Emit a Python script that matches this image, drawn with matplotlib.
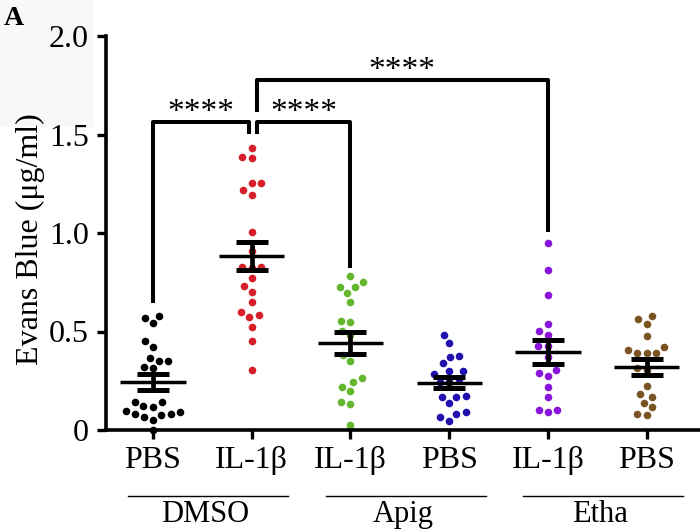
import numpy as np
import matplotlib
matplotlib.use('Agg')
import matplotlib.pyplot as plt
from matplotlib.patches import Rectangle

plt.rcParams['font.family'] = ['Liberation Serif', 'DejaVu Serif']

# 组别
tick_labels = ['PBS', 'IL-1β', 'IL-1β', 'PBS', 'IL-1β', 'PBS']
group_names = ['DMSO', 'Apig', 'Etha']
colors = ['#000000', '#d81e28', '#62b72c', '#2010ae', '#8a14dc', '#7a5422']

# 数据 (Evans Blue, μg/ml)
dmso_pbs = [0.567, 0.541, 0.579, 0.423, 0.453, 0.352, 0.321, 0.313, 0.352, 0.367, 0.144,
            0.122, 0.118, 0.140, 0.098, 0.080, 0.076, 0.068, 0.051, 0.080, 0.093, 0.0]
dmso_il = [1.433, 1.379, 1.387, 1.255, 1.255, 1.193, 1.218, 1.007, 0.910, 0.829, 0.829,
           0.824, 0.770, 0.733, 0.702, 0.648, 0.584, 0.601, 0.572, 0.525, 0.453, 0.305]
apig_il = [0.753, 0.724, 0.694, 0.724, 0.782, 0.648, 0.547, 0.553, 0.504, 0.482, 0.381,
           0.350, 0.245, 0.262, 0.220, 0.198, 0.144, 0.130, 0.025]
apig_pbs = [0.482, 0.440, 0.372, 0.376, 0.338, 0.301, 0.301, 0.257, 0.173, 0.166, 0.169,
            0.135, 0.080, 0.047, 0.064, 0.093, 0.284, 0.245, 0.245]
etha_il = [0.948, 0.812, 0.685, 0.536, 0.503, 0.482, 0.426, 0.426, 0.372, 0.305, 0.276,
           0.288, 0.220, 0.169, 0.102, 0.093, 0.102]
etha_pbs = [0.562, 0.538, 0.580, 0.477, 0.423, 0.392, 0.389, 0.392, 0.406, 0.313, 0.305,
            0.223, 0.183, 0.166, 0.139, 0.115, 0.076, 0.080]
groups = [dmso_pbs, dmso_il, apig_il, apig_pbs, etha_il, etha_pbs]

# 显著性标记: (左组, 右组, 横线高度, 左腿底, 右腿底)
sig = [(0, 1, 1.565, 0.656, 1.514),
       (1, 2, 1.565, 1.514, 0.83),
       (1, 4, 1.777, 1.624, 1.015)]

fig = plt.figure(figsize=(7, 5.29), dpi=100)
fig.patches.append(Rectangle((0, 1 - 127 / 529), 93 / 700, 127 / 529, transform=fig.transFigure,
                             facecolor='#f8f8f8', edgecolor='none', zorder=-10))
ax = fig.add_axes([106 / 700, 99 / 529, 594 / 700, 394 / 529])
ax.set_xlim(-0.476, 5.54)
ax.set_ylim(0, 2.0)
ax.patch.set_alpha(0)


def swarm(vals, d):
    # 简单的蜂群排列 (像素空间)
    p = ax.transData.transform(np.column_stack([np.zeros(len(vals)), vals]))
    ys = p[:, 1]
    order = np.argsort(ys)
    offs = np.zeros(len(vals))
    placed = []
    for i in order:
        y = ys[i]
        near = [(px, py) for px, py in placed if abs(py - y) < d]
        cands = [0.0]
        for px, py in near:
            dx = np.sqrt(d ** 2 - (py - y) ** 2)
            cands += [px - dx, px + dx]
        cands.sort(key=abs)
        for c in cands:
            if all((c - px) ** 2 + (y - py) ** 2 >= d ** 2 - 1e-6 for px, py in near):
                offs[i] = c
                break
        placed.append((offs[i], y))
    xpx = ax.transData.transform([[1, 0]])[0, 0] - ax.transData.transform([[0, 0]])[0, 0]
    return offs / xpx


for i, vals in enumerate(groups):
    vals = np.array(vals)
    xs = i + swarm(vals, 9.6)
    ax.scatter(xs, vals, s=30, color=colors[i], linewidths=0, zorder=2, clip_on=False)
    m = vals.mean()
    sem = vals.std(ddof=1) / np.sqrt(len(vals))
    ax.hlines(m, i - 0.33, i + 0.33, color='k', lw=2.5, zorder=3)
    ax.errorbar(i, m, yerr=sem, fmt='none', ecolor='k', elinewidth=3.4,
                capsize=11.5, capthick=3.6, zorder=3)

for a, b, top, la, lb in sig:
    xa = a + 0.05 if a == 1 else a
    xb = b - 0.03 if b == 1 else b
    ax.plot([xa, xa, xb, xb], [la, top, top, lb], color='k', lw=2.9,
            solid_joinstyle='round', zorder=4, clip_on=False)
    ax.text((xa + xb) / 2, top + 0.005, '****', ha='center', va='baseline', fontsize=24)

ax.spines['top'].set_visible(False)
ax.spines['right'].set_visible(False)
for s in ['left', 'bottom']:
    ax.spines[s].set_linewidth(2.6)
ax.spines['left'].set_bounds(0, 2.0)

ax.set_xticks(range(6))
ax.set_xticklabels(tick_labels, fontsize=23)
ax.set_yticks([0, 0.5, 1.0, 1.5, 2.0])
ax.set_yticklabels(['0', '0.5', '1.0', '1.5', '2.0'], fontsize=23)
ax.tick_params(axis='both', width=2.4, length=6.5)
ax.tick_params(axis='y', pad=6)
ax.tick_params(axis='x', pad=5)
ax.set_ylabel('Evans Blue (μg/ml)', fontsize=23)
ax.yaxis.set_label_coords(-0.103, 0.485)

# 分组下划线和组名
tr = ax.get_xaxis_transform()
for g, name in enumerate(group_names):
    x0 = 2 * g
    ax.plot([x0 - 0.25, x0 + 1.37], [-0.1675, -0.1675], color='k', lw=1.0,
            transform=tr, clip_on=False)
    ax.text(x0 + 0.53, -0.2335, name, ha='center', va='baseline', fontsize=22, transform=tr)

fig.text(0.005, 1 - 25 / 529, 'A', fontsize=20, fontweight='bold', ha='left', va='baseline')

fig.savefig('out.png', dpi=100)
